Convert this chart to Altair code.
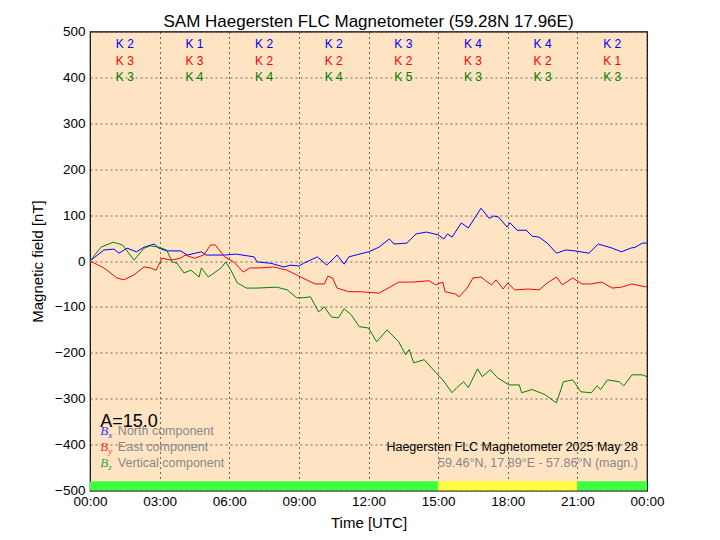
import altair as alt
import pandas as pd

# ---------------- data ----------------
bx_t = [0, 0.3, 0.6, 1.03, 1.25, 1.6, 2.0, 2.33, 2.76, 2.97, 3.3, 3.9, 4.2, 4.8, 5.0, 5.8, 6.3, 7.07, 7.2, 7.8,
        8.35, 8.65, 9.0, 9.2, 9.5, 9.8, 10.2, 10.65, 10.95, 11.15, 12.0, 12.45, 12.9, 13.1, 13.65, 14.05, 14.5,
        15.0, 15.25, 15.4, 15.6, 16.0, 16.3, 16.85, 17.2, 17.4, 17.6, 17.97, 18.1, 18.4, 18.8, 19.05, 19.35,
        19.7, 20.1, 20.5, 20.9, 21.5, 21.9, 22.5, 22.9, 23.3, 23.5, 23.8, 24.0]
bx_v = [0, 12, 24, 26, 17, 28, 20, 30, 37, 28, 22, 22, 13, 20, 13, 13, 15, 9, -2, -5,
        -13, -9, -11, -5, 2, 9, -9, 13, -7, 9, 20, 30, 48, 37, 39, 59, 63,
        57, 48, 59, 52, 83, 72, 115, 93, 98, 96, 74, 83, 67, 67, 54, 52,
        39, 17, 24, 22, 17, 37, 28, 20, 28, 30, 39, 39]

by_t = [0, 0.6, 1.16, 1.46, 1.9, 2.33, 2.6, 2.85, 3.1, 3.5, 3.9, 4.1, 4.5, 4.9, 5.2, 5.4, 5.8, 6.2, 6.6, 6.9,
        7.35, 7.9, 8.5, 9.0, 9.7, 10.1, 10.25, 10.45, 10.65, 11.15, 11.7, 12.45, 13.1, 13.3, 13.9, 14.6, 14.9,
        15.2, 15.3, 15.75, 15.9, 16.25, 16.5, 16.85, 17.05, 17.3, 17.5, 17.8, 18.0, 18.3, 18.9, 19.35, 19.7,
        20.1, 20.35, 20.8, 21.2, 21.6, 22.05, 22.5, 22.9, 23.35, 24.0]
by_v = [0, -15, -37, -41, -30, -13, -15, -20, 6, 2, 6, 13, 6, 13, 35, 35, 9, -2, -24, -15,
        -15, -13, -20, -33, -50, -50, -33, -37, -59, -67, -67, -70, -52, -46, -46, -43, -52,
        -46, -67, -72, -78, -59, -37, -35, -43, -52, -41, -61, -48, -63, -61, -63, -48,
        -35, -52, -37, -50, -50, -46, -59, -57, -50, -57]

bz_t = [0, 0.47, 1.0, 1.4, 1.9, 2.33, 2.6, 2.97, 3.3, 3.55, 3.75, 4.05, 4.35, 4.7, 4.8, 5.1, 5.65, 5.85, 6.07,
        6.35, 6.75, 7.2, 8.05, 8.5, 8.9, 9.2, 9.5, 9.85, 10.1, 10.4, 10.7, 10.95, 11.25, 11.6, 12.0, 12.35,
        12.8, 13.3, 13.6, 13.75, 13.95, 14.4, 14.9, 15.2, 15.6, 15.8, 16.1, 16.3, 16.7, 16.9, 17.25, 17.55,
        18.05, 18.5, 18.6, 19.05, 19.6, 20.1, 20.4, 20.8, 21.15, 21.6, 21.85, 22.0, 22.3, 22.8, 23.0, 23.35,
        23.8, 24.0]
bz_v = [0, 30, 41, 35, 2, 28, 33, 30, 24, -2, -5, -26, -20, -35, -15, -35, -15, -2, -20,
        -48, -59, -59, -57, -63, -80, -80, -78, -111, -100, -122, -124, -104, -117, -143, -146, -176,
        -150, -176, -204, -193, -222, -215, -243, -259, -287, -276, -263, -276, -235, -252, -237, -254,
        -270, -270, -287, -280, -291, -309, -263, -259, -285, -287, -272, -280, -259, -263, -272, -248,
        -248, -252]

k_hours = [1.5, 4.5, 7.5, 10.5, 13.5, 16.5, 19.5, 22.5]
k_x = ["K 2", "K 1", "K 2", "K 2", "K 3", "K 4", "K 4", "K 2"]
k_y = ["K 3", "K 3", "K 2", "K 2", "K 2", "K 3", "K 2", "K 1"]
k_z = ["K 3", "K 4", "K 4", "K 4", "K 5", "K 3", "K 3", "K 3"]

strip_start = [0, 15, 21]
strip_end = [15, 21, 24]
strip_color = ["#40FF40", "#FFFF40", "#40FF40"]

x_ticks = [0, 3, 6, 9, 12, 15, 18, 21, 24]
y_ticks = [-500, -400, -300, -200, -100, 0, 100, 200, 300, 400, 500]

title_text = "SAM Haegersten FLC Magnetometer (59.28N 17.96E)"
legend_subs = ["x", "y", "z"]
legend_names = ["North component", "East component", "Vertical component"]
legend_colors = ["#3333FF", "#FF3333", "#33AA33"]
activity_text = "A=15.0"
station_text = "Haegersten FLC Magnetometer 2025 May 28"
coord_text = "59.46°N, 17.89°E - 57.86°N (magn.)"

FONT = "Liberation Sans"

# ---------------- scales ----------------
xs = alt.Scale(domain=[0, 24], nice=False, zero=False)
ys = alt.Scale(domain=[-500, 500], nice=False, zero=False)

xaxis = alt.Axis(values=x_ticks, title="Time [UTC]",
                 labelExpr="(datum.value % 24 < 10 ? '0' : '') + (datum.value % 24) + ':00'",
                 labelFlush=False, labelOverlap=False)
yaxis = alt.Axis(values=y_ticks, title="Magnetic field [nT]", format="d", labelOverlap=False)

X = lambda f: alt.X(f, type="quantitative", scale=xs, axis=xaxis)
Y = lambda f: alt.Y(f, type="quantitative", scale=ys, axis=yaxis)

# ---------------- layers ----------------
strip_df = pd.DataFrame({"s": strip_start, "e": strip_end, "c": strip_color,
                         "lo": [-500] * 3, "hi": [-480] * 3})
strips = alt.Chart(strip_df).mark_rect().encode(
    x=X("s"), x2="e", y=Y("lo"), y2="hi",
    color=alt.Color("c:N", scale=None))

def line(ts, vs, col):
    df = pd.DataFrame({"t": ts, "v": vs})
    return alt.Chart(df).mark_line(color=col, strokeWidth=1, clip=True).encode(x=X("t"), y=Y("v"))

lines = [line(bx_t, bx_v, "#0000FF"), line(by_t, by_v, "#FF0000"), line(bz_t, bz_v, "#008000")]

def ktext(labels, level, col):
    df = pd.DataFrame({"t": k_hours, "v": [level] * len(k_hours), "txt": labels})
    return alt.Chart(df).mark_text(color=col, fontSize=12, font=FONT, align="center",
                                   baseline="middle").encode(x=X("t"), y=Y("v"), text="txt:N")

ktexts = [ktext(k_x, 472, "#0000FF"), ktext(k_y, 436, "#FF0000"), ktext(k_z, 400, "#008000")]

leg_levels = [-371, -405, -439]
b_df = pd.DataFrame({"t": [0.44] * 3, "v": leg_levels, "b": ["B"] * 3, "sub": legend_subs,
                     "name": legend_names, "col": legend_colors})
b_main = alt.Chart(b_df).mark_text(font="Liberation Serif", fontStyle="italic", fontSize=13,
                                   align="left", baseline="middle").encode(
    x=X("t"), y=Y("v"), text="b:N", color=alt.Color("col:N", scale=None))
b_sub = alt.Chart(b_df).mark_text(font="Liberation Serif", fontStyle="italic", fontSize=9,
                                  align="left", baseline="middle", dx=8, dy=4).encode(
    x=X("t"), y=Y("v"), text="sub:N", color=alt.Color("col:N", scale=None))
names = alt.Chart(b_df.assign(t2=1.2)).mark_text(font=FONT, fontSize=12.5, color="#888888",
                                                 align="left", baseline="middle").encode(
    x=X("t2"), y=Y("v"), text="name:N")

a_df = pd.DataFrame({"t": [0.44], "v": [-350], "txt": [activity_text]})
a_txt = alt.Chart(a_df).mark_text(font=FONT, fontSize=18, color="black", align="left",
                                  baseline="middle").encode(x=X("t"), y=Y("v"), text="txt:N")

r_df = pd.DataFrame({"t": [23.61, 23.61], "v": [-405, -439], "txt": [station_text, coord_text],
                     "col": ["black", "#888888"]})
r_txt = alt.Chart(r_df).mark_text(font=FONT, fontSize=12.5, align="right", baseline="middle").encode(
    x=X("t"), y=Y("v"), text="txt:N", color=alt.Color("col:N", scale=None))

chart = alt.layer(strips, *lines, *ktexts, a_txt, b_main, b_sub, names, r_txt).properties(
    width=557, height=459,
    title=alt.TitleParams(title_text, font=FONT, fontSize=17, fontWeight="normal", color="black",
                          anchor="middle", frame="group", offset=-6),
    autosize=alt.AutoSizeParams(type="none"),
    padding={"left": 82, "top": 23.5, "right": 65, "bottom": 41.5},
).configure_view(
    fill="#FFE4C4", stroke="black", strokeWidth=1.2
).configure_axis(
    grid=True, gridColor="#333333", gridDash=[2, 3], gridWidth=0.8, gridOpacity=0.9,
    domain=False, ticks=False, zindex=1,
    labelFont=FONT, labelFontSize=13.5, labelColor="black",
    titleFont=FONT, titleFontSize=15, titleFontWeight="normal", titleColor="black",
).configure_axisX(labelPadding=4, titlePadding=7).configure_axisY(labelPadding=5, titlePadding=9)

chart.save("out.html", embed_options={"renderer": "svg", "actions": False})
